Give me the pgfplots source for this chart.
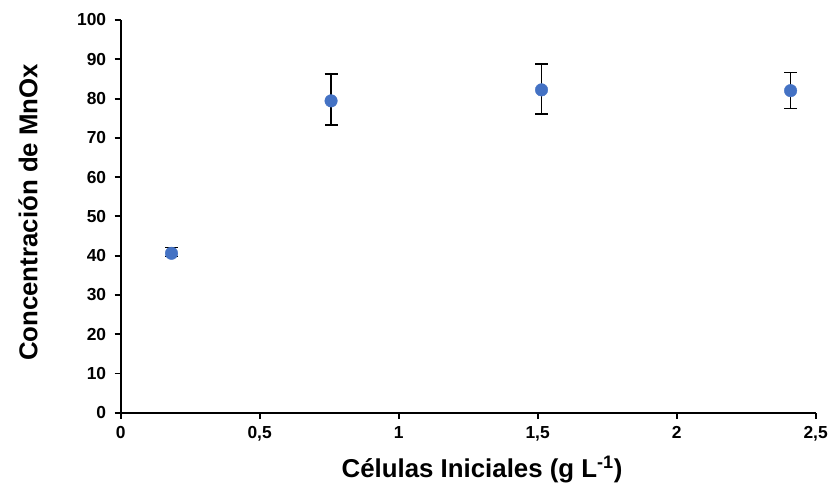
\documentclass[border=0pt]{standalone}
\usepackage{fontspec}
\setmainfont{Liberation Sans}
\usepackage{pgfplots}
\pgfplotsset{compat=1.18}
\definecolor{punto}{HTML}{4472C4}
\begin{document}
\begin{tikzpicture}
\begin{axis}[
scale only axis,
width=697bp, height=394bp,
xmin=0, xmax=2.5, ymin=0, ymax=100,
xtick={0,0.5,1,1.5,2,2.5},
ytick={0,10,...,100},
axis lines*=left,
axis line style={line width=2pt, -},
tick style={line width=2pt, black},
tick align=outside,
major tick length=6bp,
/pgf/number format/use comma,
/pgf/number format/assume math mode=true,
ticklabel style={font=\fontsize{17.5}{19}\selectfont\bfseries},
xticklabel style={yshift=-4bp},
yticklabel style={xshift=-5bp},
xlabel={Células Iniciales (g L\textsuperscript{-1})},
ylabel={Concentración de MnOx},
label style={font=\fontsize{26}{30}\selectfont\bfseries},
xlabel style={at={(axis description cs:0.52,-0.145)}, anchor=center},
ylabel style={at={(axis description cs:-0.1334,0.51)}, anchor=center},
clip=false,
]
\addplot[only marks, mark=*, mark size=6.3bp, mark options={fill=punto, draw=punto},
  error bars/.cd, y dir=both, y explicit,
  error bar style={line width=1.5pt, black},
  error mark options={rotate=90, mark size=6.5bp, line width=1.5pt, black}]
coordinates {
(0.183,40.6) += (0,1.5) -= (0,0.8)
(0.757,79.4) += (0,6.9) -= (0,6.1)
(1.514,82.2) += (0,6.6) -= (0,6.1)
(2.410,82.0) += (0,4.6) -= (0,4.6)
};
\end{axis}
\path[use as bounding box] ([shift={(-121bp,-77bp)}]current axis.south west)
  rectangle ([shift={(13bp,20bp)}]current axis.north east);
\end{tikzpicture}
\end{document}
